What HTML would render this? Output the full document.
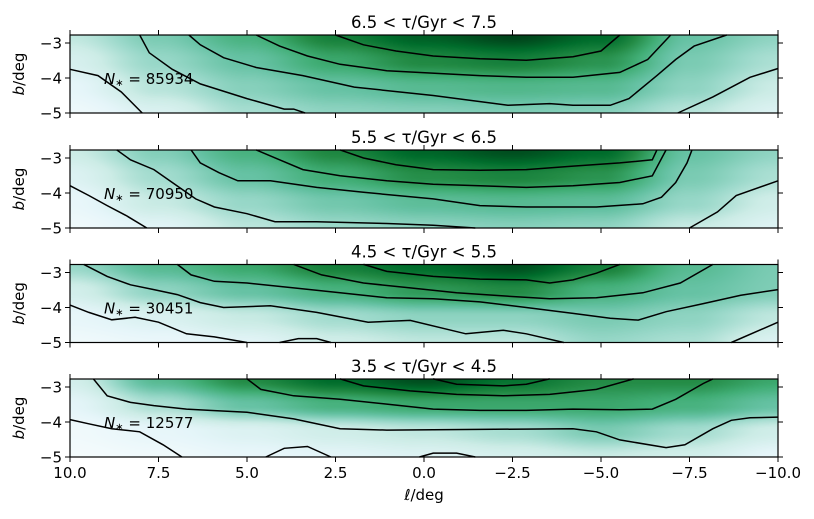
<!DOCTYPE html>
<html><head><meta charset="utf-8"><style>
body{margin:0;background:#fff;width:814px;height:519px;overflow:hidden;position:relative;font-family:"DejaVu Sans","Liberation Sans",sans-serif}
canvas{position:absolute}
svg{position:absolute;left:0;top:0}
</style></head><body>
<canvas id="c0" width="708" height="78" style="left:70px;top:35px"></canvas>
<canvas id="c1" width="708" height="78" style="left:70px;top:150px"></canvas>
<canvas id="c2" width="708" height="78" style="left:70px;top:264.5px"></canvas>
<canvas id="c3" width="708" height="78" style="left:70px;top:379px"></canvas>
<svg id="s" width="814" height="519"></svg>
<script>
const titles=["6.5 < τ/Gyr < 7.5","5.5 < τ/Gyr < 6.5","4.5 < τ/Gyr < 5.5","3.5 < τ/Gyr < 4.5"];
const counts=["85934","70950","30451","12577"];
const gridL=[10,7.5,5,2.5,0,-2.5,-5,-7.5,-10];
const gridB=[-2.77,-3.5,-4.25,-5];
const dens0=[[0.28,0.45,0.6,0.8,0.92,1.0,0.88,0.5,0.4],[0.2,0.38,0.5,0.65,0.76,0.8,0.72,0.45,0.33],[0.12,0.3,0.42,0.5,0.55,0.57,0.55,0.4,0.25],[0.06,0.18,0.34,0.4,0.42,0.44,0.42,0.3,0.17]];
const dens1=[[0.25,0.43,0.6,0.77,0.9,0.97,0.88,0.5,0.4],[0.17,0.35,0.5,0.63,0.74,0.78,0.72,0.45,0.33],[0.1,0.26,0.38,0.47,0.53,0.55,0.53,0.38,0.23],[0.05,0.14,0.29,0.37,0.4,0.42,0.4,0.26,0.16]];
const dens2=[[0.38,0.55,0.65,0.8,0.88,0.97,0.8,0.55,0.45],[0.22,0.4,0.5,0.6,0.7,0.75,0.6,0.5,0.44],[0.11,0.18,0.26,0.35,0.4,0.4,0.45,0.4,0.28],[0.05,0.09,0.14,0.23,0.28,0.28,0.38,0.33,0.17]];
const dens3=[[0.22,0.55,0.75,0.88,0.97,0.85,0.75,0.75,0.65],[0.13,0.33,0.5,0.6,0.65,0.65,0.65,0.6,0.5],[0.05,0.11,0.17,0.23,0.28,0.34,0.45,0.35,0.23],[0.02,0.05,0.1,0.13,0.16,0.2,0.25,0.22,0.11]];
const dens=[dens0,dens1,dens2,dens3];
const cont0=[
[[10,9.21,8.55,7.96],[-3.75,-3.93,-4.4,-5]],
[[8.03,7.76,7.11,6.32,5.0,3.95,3.68,3.36],[-2.77,-3.28,-3.75,-4.17,-4.59,-4.89,-4.89,-5]],
[[-7.17,-8.16,-9.21,-10],[-5,-4.54,-3.98,-3.73]],
[[6.64,6.32,5.66,4.74,3.42,1.97,-0.26,-2.37,-3.55,-4.21,-5.26,-5.79,-6.58,-7.11,-7.63,-8.55],[-2.77,-3.05,-3.42,-3.7,-3.93,-4.26,-4.5,-4.78,-4.73,-4.78,-4.78,-4.59,-3.93,-3.47,-3.09,-2.77]],
[[4.74,4.08,3.29,2.37,1.05,-1.58,-2.89,-4.21,-5.53,-6.32,-6.97],[-2.77,-3.09,-3.37,-3.61,-3.79,-3.93,-3.98,-3.98,-3.84,-3.47,-2.77]],
[[2.5,1.71,0.79,-0.26,-1.58,-2.89,-4.21,-5.0,-5.53],[-2.77,-3.05,-3.23,-3.37,-3.45,-3.49,-3.39,-3.23,-2.77]]];
const cont1=[
[[10,9.47,8.95,8.42,7.83],[-3.79,-4.07,-4.36,-4.64,-5]],
[[8.68,8.29,7.63,7.11,6.45,5.92,5.0,4.21,3.03,1.05,-0.26,-1.45],[-2.77,-3.05,-3.33,-3.7,-4.17,-4.4,-4.59,-4.82,-4.82,-4.87,-4.92,-5]],
[[-7.5,-8.29,-8.82,-10],[-5,-4.54,-4.07,-3.65]],
[[6.58,6.32,5.79,5.26,4.34,3.03,1.71,-0.26,-1.58,-2.89,-4.87,-6.18,-6.71,-7.11,-7.43,-7.57],[-2.77,-3.14,-3.42,-3.65,-3.65,-3.84,-3.98,-4.17,-4.36,-4.4,-4.4,-4.31,-4.12,-3.7,-3.14,-2.77]],
[[4.74,4.08,3.42,2.37,1.05,-0.26,-1.58,-2.89,-4.21,-5.53,-6.45,-6.84],[-2.77,-3.05,-3.33,-3.51,-3.65,-3.75,-3.79,-3.84,-3.79,-3.7,-3.51,-2.77]],
[[2.37,1.71,0.79,-0.26,-1.58,-2.89,-4.21,-5.53,-6.45,-6.58],[-2.77,-3.0,-3.19,-3.33,-3.35,-3.33,-3.23,-3.14,-3.05,-2.77]]];
const cont2=[
[[10,9.47,8.82,8.16,7.5,6.71,5.92,5.0],[-3.93,-4.14,-4.35,-4.28,-4.42,-4.75,-4.84,-5]],
[[4.08,3.55,3.03,2.63],[-5,-4.89,-4.89,-5]],
[[9.61,8.95,8.29,7.63,6.97,6.32,5.66,4.34,3.03,1.58,0.39,-1.18,-2.24,-2.89,-3.95],[-2.77,-3.11,-3.35,-3.49,-3.63,-3.86,-4.0,-3.95,-4.14,-4.42,-4.37,-4.75,-4.65,-4.75,-5]],
[[-8.68,-10],[-5,-4.42]],
[[6.97,6.58,5.92,5.0,3.68,2.37,1.05,-0.26,-1.58,-2.89,-4.21,-5.26,-6.05,-6.84,-7.89,-8.95,-10],[-2.77,-3.07,-3.25,-3.3,-3.44,-3.58,-3.72,-3.75,-3.84,-4.0,-4.17,-4.31,-4.36,-4.12,-3.89,-3.65,-3.49]],
[[3.68,2.89,1.71,0.39,-0.92,-2.24,-3.55,-4.87,-6.18,-7.24,-8.16],[-2.77,-3.07,-3.3,-3.44,-3.58,-3.67,-3.75,-3.72,-3.58,-3.3,-2.77]],
[[1.71,1.05,-0.26,-1.58,-2.89,-3.55,-4.21,-4.87,-5.53],[-2.77,-2.97,-3.11,-3.19,-3.21,-3.3,-3.21,-3.02,-2.77]]];
const cont3=[
[[10,9.47,8.82,8.03,7.37,6.84],[-3.93,-4.05,-4.19,-4.28,-4.65,-5]],
[[4.47,3.95,3.29,2.63],[-5,-4.75,-4.7,-5]],
[[0.13,-0.26,-0.92,-1.45],[-5,-4.89,-4.89,-5]],
[[9.34,8.95,8.29,7.63,6.71,6.05,5.0,3.68,2.37,1.05,-1.58,-4.21,-4.87,-5.53,-6.84,-7.37,-8.16,-8.68,-9.21,-10],[-2.77,-3.25,-3.44,-3.53,-3.63,-3.67,-3.72,-3.91,-4.19,-4.23,-4.21,-4.19,-4.28,-4.51,-4.73,-4.65,-4.19,-3.95,-3.88,-3.86]],
[[5.0,4.61,3.68,2.37,1.05,-0.26,-1.58,-2.89,-4.21,-5.53,-6.45,-7.11,-7.89,-8.16],[-2.77,-3.07,-3.25,-3.35,-3.49,-3.63,-3.67,-3.67,-3.63,-3.65,-3.63,-3.35,-2.9,-2.77]],
[[2.37,1.71,0.39,-0.92,-2.24,-3.55,-4.87,-5.92],[-2.77,-2.97,-3.11,-3.21,-3.25,-3.21,-3.07,-2.77]],
[[-0.26,-0.92,-2.24,-2.89,-3.55],[-2.77,-2.92,-2.97,-2.92,-2.77]]];
const conts=[cont0,cont1,cont2,cont3];
const xTicks=[10,7.5,5,2.5,0,-2.5,-5,-7.5,-10];
const yTicks=[-3,-4,-5];

const X0=70,X1=778,BOT=[113,228,342.5,457],PXB=35;
const xs=l=>X0+(10-l)/20*(X1-X0);
const ys=(p,b)=>BOT[p]-(b+5)*PXB;
const cmap=[[247,252,253],[229,245,249],[204,236,230],[153,216,201],[102,194,164],[65,174,118],[35,139,69],[0,109,44],[0,68,27]];
function col(v){v=Math.max(0,Math.min(1,v))*8;const i=Math.min(7,Math.floor(v)),f=v-i;return cmap[i].map((c,k)=>c+(cmap[i+1][k]-c)*f);}
function interp(g,l,b){
 let fx=(10-l)/2.5; let i=Math.min(7,Math.floor(fx)); let tx=fx-i;
 let j=0; for(j=0;j<3;j++){if(b>=gridB[j+1]){break;}} j=Math.min(2,j);
 let fy=(gridB[j]-b)/(gridB[j]-gridB[j+1]); fy=Math.max(0,Math.min(1,fy));
 tx=tx*tx*(3-2*tx); fy=fy*fy*(3-2*fy);
 const a=g[j][i]*(1-tx)+g[j][i+1]*tx, c=g[j+1][i]*(1-tx)+g[j+1][i+1]*tx;
 return a*(1-fy)+c*fy;}
for(let p=0;p<4;p++){
 const cv=document.getElementById('c'+p),ctx=cv.getContext('2d'),img=ctx.createImageData(708,78);
 for(let y=0;y<78;y++)for(let x=0;x<708;x++){
  const l=10-x/708*20,b=-5+(78-y)/PXB;
  const c=col(interp(dens[p],l,b)),k=(y*708+x)*4;
  img.data[k]=c[0];img.data[k+1]=c[1];img.data[k+2]=c[2];img.data[k+3]=255;}
 ctx.putImageData(img,0,0);}
const NS="http://www.w3.org/2000/svg",svg=document.getElementById('s');
function mk(t,a,txt){const e=document.createElementNS(NS,t);for(const k in a)e.setAttribute(k,a[k]);if(txt!=null)e.textContent=txt;svg.appendChild(e);return e;}
const fmt=v=>(v<0?"−":"")+Math.abs(v).toFixed(1);
for(let p=0;p<4;p++){
 const top=BOT[p]-78;
 conts[p].forEach((c)=>{
  const pts=c[0].map((l,i)=>xs(l).toFixed(1)+","+ys(p,Math.max(-5,Math.min(-2.77,c[1][i]))).toFixed(1)).join(" ");
  const e=mk('polyline',{points:pts,fill:'none',stroke:'#000','stroke-width':1.5});
  
  
 });
 const fr=mk('rect',{x:X0,y:top,width:X1-X0,height:78,fill:'none',stroke:'#000','stroke-width':1.2});
 
 
 xTicks.forEach(v=>{const x=xs(v);
  mk('line',{x1:x,x2:x,y1:BOT[p],y2:BOT[p]+5,stroke:'#000','stroke-width':1});
  mk('line',{x1:x,x2:x,y1:top,y2:top-5,stroke:'#000','stroke-width':1});});
 yTicks.forEach(v=>{const y=ys(p,v);
  mk('line',{x1:X0-5,x2:X0,y1:y,y2:y,stroke:'#000','stroke-width':1});
  mk('line',{x1:X1,x2:X1+5,y1:y,y2:y,stroke:'#000','stroke-width':1});
  const t=mk('text',{x:X0-8,y:y+5.5,'text-anchor':'end','font-size':15},fmt(v).replace('.0',''));
  
  });
 const tt=mk('text',{x:424,y:top-7,'text-anchor':'middle','font-size':16.5},titles[p]);
 
 
 const nl=mk('text',{x:104,y:ys(p,-4)+6,'font-size':15});
 nl.innerHTML='<tspan font-style="italic">N</tspan><tspan font-size="10" dy="2">∗</tspan><tspan dy="-2"> = '+counts[p]+'</tspan>';
 
 
 const yl=mk('text',{x:0,y:0,'text-anchor':'middle','font-size':15,transform:`translate(24,${BOT[p]-39}) rotate(-90)`});
 yl.innerHTML='<tspan font-style="italic">b</tspan>/deg';
 
 
}
xTicks.forEach(v=>{const t=mk('text',{x:xs(v),y:478,'text-anchor':'middle','font-size':15},fmt(v));
 
 });
const xl=mk('text',{x:424,y:500,'text-anchor':'middle','font-size':15});
xl.innerHTML='<tspan font-style="italic">ℓ</tspan>/deg';


</script>
</body></html>
